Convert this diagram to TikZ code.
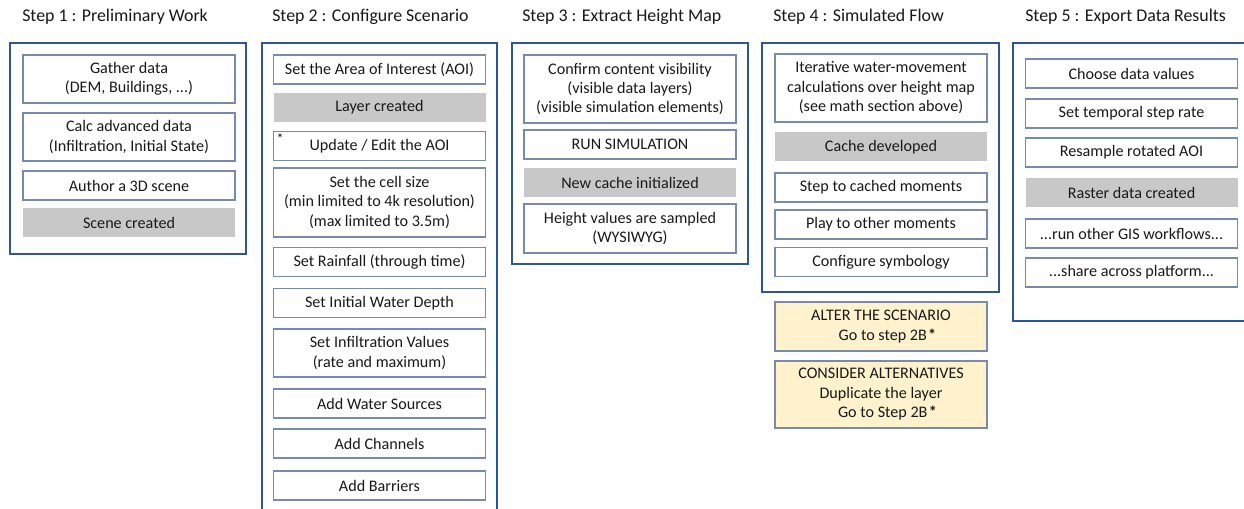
\documentclass[tikz,border=0pt]{standalone}
\usepackage{fontspec}
\setmainfont{Carlito}
\definecolor{framblue}{RGB}{47,85,151}
\definecolor{boxline}{RGB}{120,138,176}
\definecolor{donegray}{RGB}{200,200,200}
\definecolor{noteyellow}{RGB}{255,242,204}
\definecolor{txt}{RGB}{25,25,25}
\tikzset{
  frame/.style={draw=framblue, line width=1.9pt},
  steptitle/.style={anchor=west, inner sep=0pt, text=txt, font=\fontsize{13.4}{15}\selectfont},
  task/.style={draw=boxline, line width=0.9pt, fill=white, minimum width=159pt,
    minimum height=21.75pt, inner sep=1pt, align=center, text=txt,
    font=\fontsize{12.1}{14.6}\selectfont},
  done/.style={task, draw=none, fill=donegray},
  note/.style={task, fill=noteyellow},
}
\begin{document}
\begin{tikzpicture}[x=0.75pt, y=-0.75pt]
            \useasboundingbox[fill=white] (0,0) rectangle (1244,509);
            \node[steptitle] (T1) at (22,17) {Step 1 : Preliminary Work};
            \node[steptitle] (T2) at (272,17) {Step 2 : Configure Scenario};
            \node[steptitle] (T3) at (522,17) {Step 3 : Extract Height Map};
            \node[steptitle] (T4) at (773,17) {Step 4 : Simulated Flow};
            \node[steptitle] (T5) at (1025,17) {Step 5 : Export Data Results};
            \draw[frame] (10,43) rectangle (246,254);
            \draw[frame] (262,43) rectangle (497,530);
            \draw[frame] (512,43) rectangle (748,264);
            \draw[frame] (762,43) rectangle (999,292);
            \draw[frame] (1013,43) rectangle (1260,321);
            \node[task, minimum height=36pt] (Gather) at (129,79) {Gather data\\(DEM, Buildings, ...)};
            \node[task, minimum height=36pt] (Calc) at (129,137) {Calc advanced data\\(Infiltration, Initial State)};
            \node[task] (Author) at (129,185.5) {Author a 3D scene};
            \node[done] (Scene) at (129,223) {Scene created};
            \node[task] (AOI) at (379.5,69.5) {Set the Area of Interest (AOI)};
            \node[done] (Layer) at (379.5,107.5) {Layer created};
            \node[task] (Update) at (379.5,146) {Update / Edit the AOI};
            \node[inner sep=0pt, text=txt, font=\fontsize{9}{9}\bfseries] (Star) at (280,138) {*};
            \node[task, minimum height=51.75pt] (Cell) at (379.5,202.5) {Set the cell size\\(min limited to 4k resolution)\\(max limited to 3.5m)};
            \node[task] (Rain) at (379.5,262) {Set Rainfall (through time)};
            \node[task] (Depth) at (379.5,303) {Set Initial Water Depth};
            \node[task, minimum height=36pt] (Infil) at (379.5,353) {Set Infiltration Values\\(rate and maximum)};
            \node[task] (Sources) at (379.5,403.5) {Add Water Sources};
            \node[task] (Channels) at (379.5,443.5) {Add Channels};
            \node[task] (Barriers) at (379.5,485.5) {Add Barriers};
            \node[task, minimum height=51pt] (Confirm) at (630,89) {Confirm content visibility\\(visible data layers)\\(visible simulation elements)};
            \node[task] (Run) at (630,144.5) {RUN SIMULATION};
            \node[done] (NewCache) at (630,182.5) {New cache initialized};
            \node[task, minimum height=36.75pt] (Sampled) at (630,228.5) {Height values are sampled\\(WYSIWYG)};
            \node[task, minimum height=51pt] (Iter) at (881,88) {Iterative water-movement\\calculations over height map\\(see math section above)};
            \node[done] (Cache) at (881,147) {Cache developed};
            \node[task] (StepTo) at (881,187.5) {Step to cached moments};
            \node[task] (Play) at (881,224.5) {Play to other moments};
            \node[task] (Symb) at (881,262) {Configure symbology};
            \node[note, minimum height=36.75pt] (Alter) at (881,326.5) {ALTER THE SCENARIO\\\hspace*{0.8em}Go to step 2B\kern1pt{\bfseries*}};
            \node[note, minimum height=50.25pt] (Consider) at (881,394.5) {CONSIDER ALTERNATIVES\\Duplicate the layer\\\hspace*{0.8em}Go to Step 2B\kern1pt{\bfseries*}};
            \node[task] (Choose) at (1131.5,73.5) {Choose data values};
            \node[task] (Temporal) at (1131.5,113.5) {Set temporal step rate};
            \node[task] (Resample) at (1131.5,152.5) {Resample rotated AOI};
            \node[done] (Raster) at (1131.5,192.5) {Raster data created};
            \node[task] (GIS) at (1131.5,233.5) {...run other GIS workflows...};
            \node[task] (Share) at (1131.5,272.5) {...share across platform...};
        \end{tikzpicture}
\end{document}
